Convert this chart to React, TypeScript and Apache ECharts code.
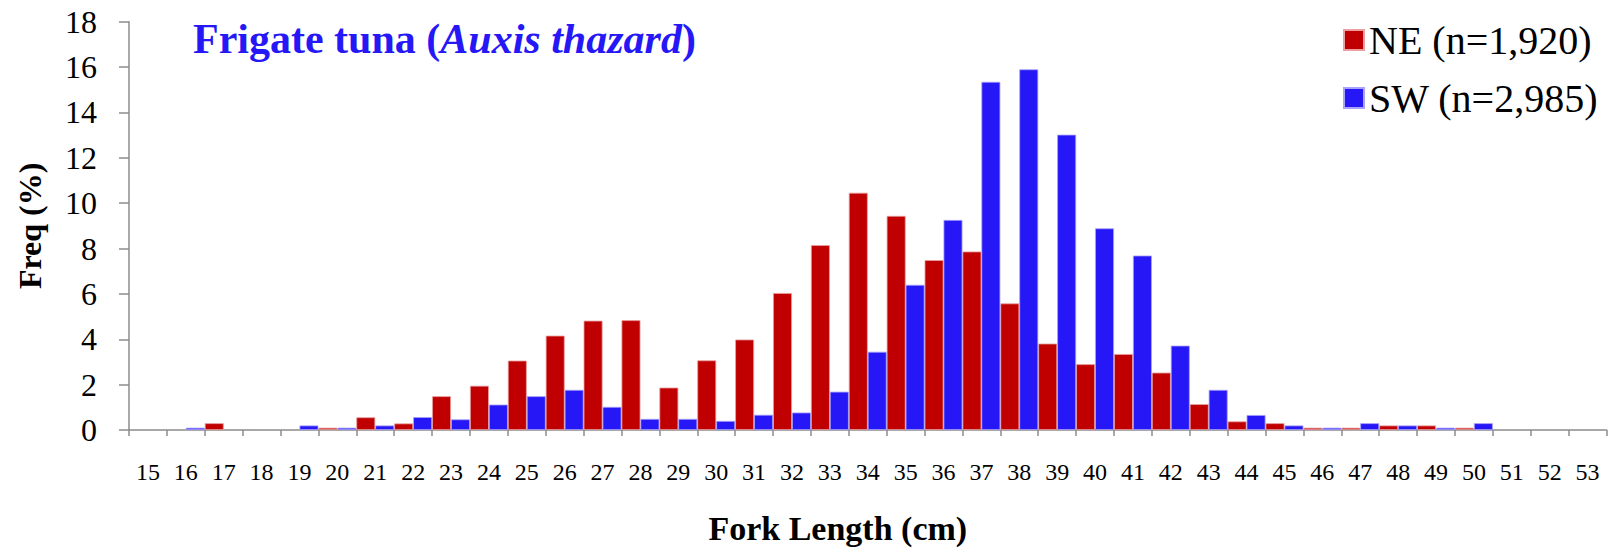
import React, { useEffect, useRef } from "react";
import * as echarts from "echarts";

const categories = [
  "15", "16", "17", "18", "19", "20", "21", "22", "23", "24", "25", "26", "27",
  "28", "29", "30", "31", "32", "33", "34", "35", "36", "37", "38", "39", "40",
  "41", "42", "43", "44", "45", "46", "47", "48", "49", "50", "51", "52", "53",
];

const neValues = [
  0, 0, 0.3, 0, 0, 0.1, 0.56, 0.29, 1.49, 1.95, 3.06, 4.16, 4.82,
  4.84, 1.87, 3.07, 3.99, 6.04, 8.15, 10.46, 9.44, 7.49, 7.87, 5.58, 3.81, 2.9,
  3.35, 2.53, 1.14, 0.38, 0.3, 0.1, 0.1, 0.2, 0.2, 0.1, 0, 0, 0,
];

const swValues = [
  0, 0.1, 0, 0, 0.2, 0.1, 0.2, 0.57, 0.47, 1.12, 1.49, 1.77, 1.02,
  0.49, 0.49, 0.4, 0.67, 0.77, 1.69, 3.45, 6.4, 9.26, 15.35, 15.9, 13.02, 8.89,
  7.69, 3.72, 1.77, 0.66, 0.2, 0.1, 0.3, 0.2, 0.1, 0.3, 0, 0, 0,
];

const neName = "NE (n=1,920)";
const swName = "SW (n=2,985)";
const yTicks = { min: 0, max: 18, interval: 2 };

const FONT = "'Liberation Serif', 'Times New Roman', serif";
const RED = "#C00000";
const BLUE = "#2618F6";
const AXIS = "#8C8C8C";

export default function App() {
  const ref = useRef<HTMLDivElement>(null);

  useEffect(() => {
    if (!ref.current) return;
    const chart = echarts.init(ref.current, undefined, { renderer: "svg" });
    const toBar = (arr: number[]) => arr.map((v) => (v === 0 ? null : v));
    chart.setOption({
      animation: false,
      backgroundColor: "#ffffff",
      textStyle: { fontFamily: FONT, color: "#000" },
      title: {
        text: "{a|Frigate tuna (}{b|Auxis thazard}{a|)}",
        left: 193,
        top: 18,
        padding: 0,
        textStyle: {
          rich: {
            a: { fontSize: 42, fontWeight: "bold", fontFamily: FONT, color: BLUE },
            b: { fontSize: 42, fontWeight: "bold", fontStyle: "italic", fontFamily: FONT, color: BLUE },
          },
        },
      },
      legend: {
        orient: "vertical",
        left: 1343,
        top: 20,
        padding: 0,
        icon: "rect",
        itemWidth: 20,
        itemHeight: 20,
        itemGap: 18,
        textStyle: { fontSize: 40, fontFamily: FONT, color: "#000", lineHeight: 40 },
        data: [neName, swName],
      },
      grid: { left: 129, right: 16.5, top: 21.7, bottom: 110, containLabel: false },
      xAxis: {
        type: "category",
        data: categories,
        boundaryGap: true,
        name: "Fork Length (cm)",
        nameLocation: "middle",
        nameGap: 81,
        nameTextStyle: { fontSize: 34, fontWeight: "bold", fontFamily: FONT, color: "#000", padding: [0, 60, 0, 0] },
        axisLine: { lineStyle: { color: AXIS, width: 1.5 } },
        axisTick: { show: true, interval: 0, length: 6, lineStyle: { color: AXIS, width: 1.5 } },
        axisLabel: { interval: 0, fontSize: 24, fontFamily: FONT, color: "#000", margin: 30 },
        splitLine: { show: false },
      },
      yAxis: {
        type: "value",
        min: yTicks.min,
        max: yTicks.max,
        interval: yTicks.interval,
        name: "Freq (%)",
        nameLocation: "middle",
        nameGap: 83,
        nameTextStyle: { fontSize: 32, fontWeight: "bold", fontFamily: FONT, color: "#000" },
        axisLine: { show: true, lineStyle: { color: AXIS, width: 1.5 } },
        axisTick: { show: true, length: 10, lineStyle: { color: AXIS, width: 1.5 } },
        axisLabel: { fontSize: 32, fontFamily: FONT, color: "#000", margin: 32 },
        splitLine: { show: false },
      },
      series: [
        {
          name: neName,
          type: "bar",
          data: toBar(neValues),
          barGap: "0%",
          barCategoryGap: "0%",
          itemStyle: { color: RED, borderColor: "#E8A0A0", borderWidth: 0.8 },
        },
        {
          name: swName,
          type: "bar",
          data: toBar(swValues),
          barGap: "0%",
          barCategoryGap: "0%",
          itemStyle: { color: BLUE, borderColor: "#A9A2FA", borderWidth: 0.8 },
        },
      ],
    });
    return () => chart.dispose();
  }, []);

  return (
    <div
      ref={ref}
      style={{ position: "fixed", left: 0, top: 0, width: 1623, height: 550, background: "#fff" }}
    />
  );
}
